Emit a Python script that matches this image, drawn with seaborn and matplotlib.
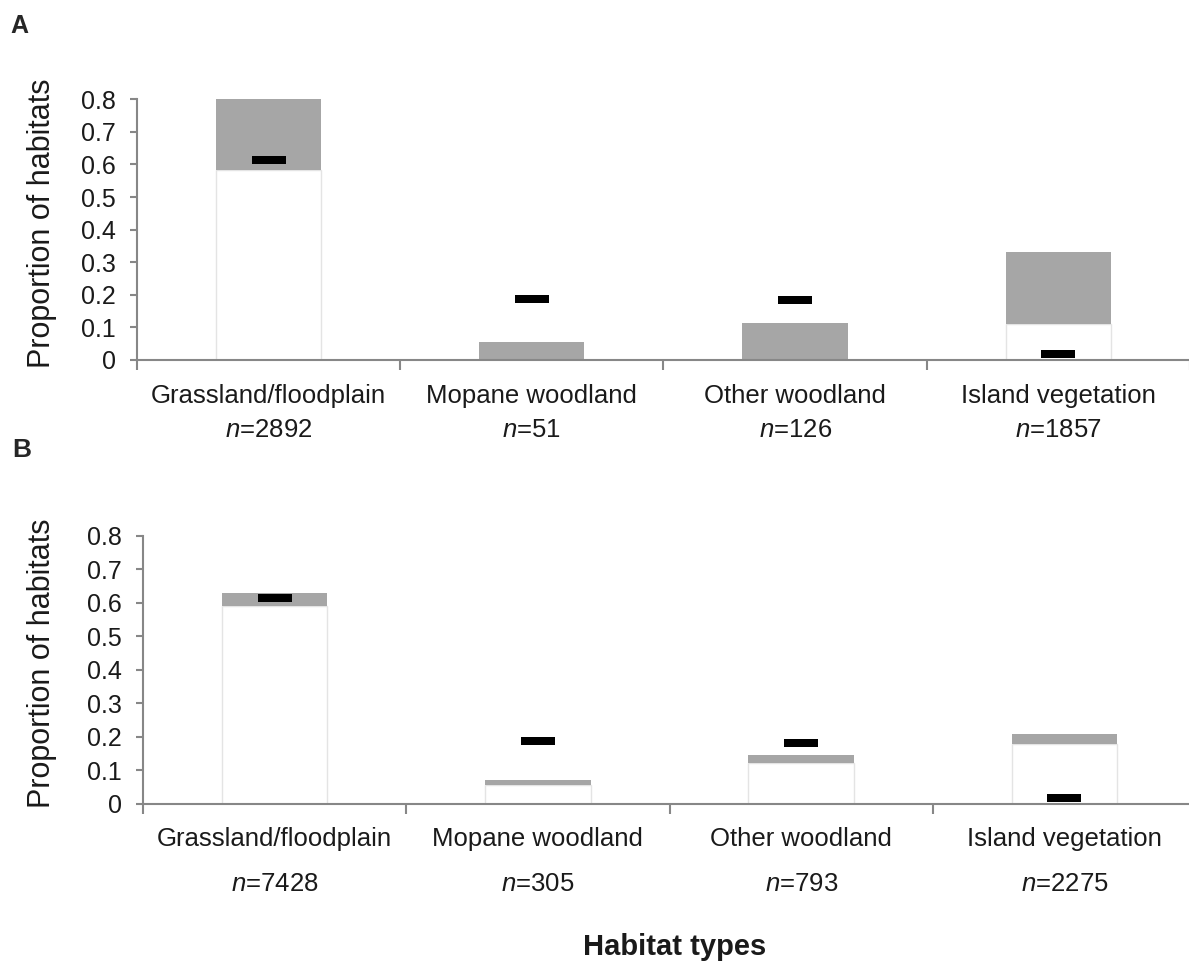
import numpy as np
import seaborn as sns
import matplotlib.pyplot as plt
from matplotlib.ticker import FixedLocator

# habitat categories
habitats = ["Grassland/floodplain", "Mopane woodland", "Other woodland", "Island vegetation"]

# panel A: confidence interval of use, expected proportion (availability), sample sizes
a_low = [0.583, 0.0, 0.0, 0.110]
a_high = [0.802, 0.056, 0.113, 0.330]
a_expected = [0.613, 0.187, 0.184, 0.019]
a_n = [2892, 51, 126, 1857]

# panel B
b_low = [0.592, 0.056, 0.123, 0.178]
b_high = [0.631, 0.072, 0.146, 0.209]
b_expected = [0.614, 0.189, 0.181, 0.017]
b_n = [7428, 305, 793, 2275]

yticks = [0, 0.1, 0.2, 0.3, 0.4, 0.5, 0.6, 0.7, 0.8]
ytick_labels = ["0", "0.1", "0.2", "0.3", "0.4", "0.5", "0.6", "0.7", "0.8"]

sns.set_style("ticks")
plt.rcParams["font.family"] = ["Liberation Sans", "DejaVu Sans"]
plt.rcParams["mathtext.fontset"] = "custom"
plt.rcParams["mathtext.it"] = "Liberation Sans:italic"
plt.rcParams["mathtext.rm"] = "Liberation Sans"

axis_grey = "#878787"
bar_grey = "#a6a6a6"
bar_marker = [(-1, -0.25), (1, -0.25), (1, 0.25), (-1, 0.25)]

fig = plt.figure(figsize=(11.89, 9.61), dpi=100)
ax_a = fig.add_axes([0.1152, 0.6254, 0.8856, 0.2713])
ax_b = fig.add_axes([0.1203, 0.1634, 0.8856, 0.2789])


def draw_panel(ax, low, high, expected, n, name_off, n_off, ylab_x):
    high_part = np.array(high) - np.array(low)
    sns.barplot(x=habitats, y=low, color="white", edgecolor="#e4e4e4",
                linewidth=1, width=0.4, saturation=1, ax=ax)
    sns.barplot(x=habitats, y=high_part, bottom=low, color=bar_grey,
                linewidth=0, width=0.4, saturation=1, ax=ax)
    sns.scatterplot(x=habitats, y=expected, marker=bar_marker, s=565,
                    color="black", linewidth=0, ax=ax, zorder=5)

    ax.set_xlim(-0.5, 3.5)
    ax.set_ylim(0, 0.8)
    ax.set_yticks(yticks, ytick_labels)
    ax.set_xticks(range(len(habitats)), [""] * len(habitats))
    ax.xaxis.set_minor_locator(FixedLocator([-0.5, 0.5, 1.5, 2.5, 3.5]))
    ax.tick_params(axis="x", which="major", length=0)
    ax.tick_params(axis="x", which="minor", length=7, width=1.5, color=axis_grey)
    ax.tick_params(axis="y", length=5, width=1.5, color=axis_grey,
                   labelsize=18, pad=10, labelcolor="#1a1a1a")
    sns.despine(ax=ax)
    for side in ["left", "bottom"]:
        ax.spines[side].set_color(axis_grey)
        ax.spines[side].set_linewidth(1.5)
    ax.spines["left"].set_zorder(6)

    for i, (name, count) in enumerate(zip(habitats, n)):
        ax.annotate(name, xy=(i, 0), xycoords=("data", "axes fraction"),
                    xytext=(0, -name_off), textcoords="offset points",
                    ha="center", va="baseline", fontsize=18.5, color="#1a1a1a")
        ax.annotate(f"$n$={count}", xy=(i, 0), xycoords=("data", "axes fraction"),
                    xytext=(0, -n_off), textcoords="offset points",
                    ha="center", va="baseline", fontsize=18.5, color="#1a1a1a")

    ax.set_ylabel("Proportion of habitats", fontsize=22, color="#1a1a1a")
    ax.yaxis.set_label_coords(ylab_x, 0.525)
    ax.set_xlabel("")


draw_panel(ax_a, a_low, a_high, a_expected, a_n, 31, 55.5, -0.076)
draw_panel(ax_b, b_low, b_high, b_expected, b_n, 30.2, 62.6, -0.082)

fig.text(10 / 1189, 1 - 33 / 961, "A", fontsize=18, fontweight="bold", va="baseline")
fig.text(12 / 1189, 1 - 457 / 961, "B", fontsize=19, fontweight="bold", va="baseline")
fig.text(675 / 1189, 1 - 955 / 961, "Habitat types", fontsize=21,
         fontweight="bold", ha="center", va="baseline", color="#1a1a1a")

fig.savefig("out.png", dpi=100)
